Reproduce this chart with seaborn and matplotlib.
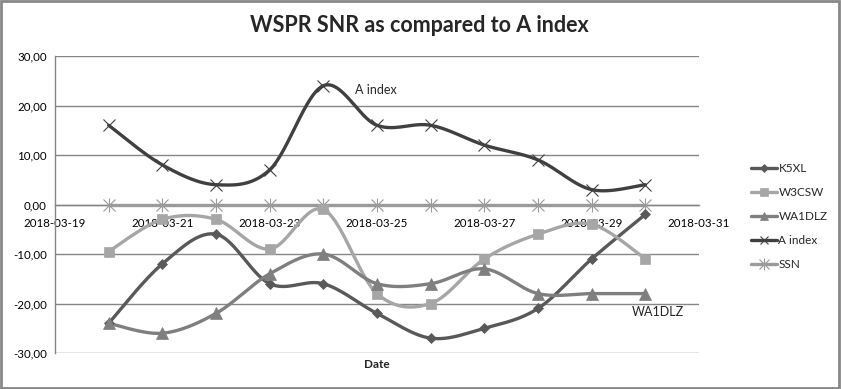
import numpy as np
import pandas as pd
import matplotlib
matplotlib.use("Agg")
import matplotlib.pyplot as plt
import matplotlib.dates as mdates
from matplotlib.lines import Line2D
from matplotlib.legend_handler import HandlerTuple
from matplotlib.ticker import FuncFormatter
import seaborn as sns

# ---- data ----
dates = ["2018-03-20", "2018-03-21", "2018-03-22", "2018-03-23", "2018-03-24",
         "2018-03-25", "2018-03-26", "2018-03-27", "2018-03-28", "2018-03-29",
         "2018-03-30"]
k5xl = [-24, -12, -6, -16, -16, -22, -27, -25, -21, -11, -2]
w3csw = [-9.5, -3, -3, -9, -1, -18, -20, -11, -6, -4, -11]
wa1dlz = [-24, -26, -22, -14, -10, -16, -16, -13, -18, -18, -18]
a_index = [16, 8, 4, 7, 24, 16, 16, 12, 9, 3, 4]
ssn = [0, 0, 0, 0, 0, 0, 0, 0, 0, 0, 0]
tick_dates = ["2018-03-19", "2018-03-21", "2018-03-23", "2018-03-25",
              "2018-03-27", "2018-03-29", "2018-03-31"]
y_ticks = [-30, -20, -10, 0, 10, 20, 30]

series = [
    ("K5XL", k5xl, "#595959", "D", 5.5),
    ("W3CSW", w3csw, "#A6A6A6", "s", 7.5),
    ("WA1DLZ", wa1dlz, "#7F7F7F", "^", 8),
    ("A index", a_index, "#404040", "x", 8),
    ("SSN", ssn, "#9A9A9A", "star", 8),
]

sns.set_theme(style="white")
plt.rcParams["font.family"] = ["Lato", "DejaVu Sans"]


def smooth(x, y, n=30):
    """Catmull-Rom style Bezier smoothing (as used by spreadsheet 'smoothed lines')."""
    x = np.asarray(x, float)
    y = np.asarray(y, float)
    P = np.column_stack([x, y])
    out = []
    m = len(P)
    for i in range(m - 1):
        p0 = P[i - 1] if i > 0 else P[i]
        p1 = P[i]
        p2 = P[i + 1]
        p3 = P[i + 2] if i + 2 < m else P[i + 1]
        c1 = p1 + (p2 - p0) / 6.0
        c2 = p2 - (p3 - p1) / 6.0
        t = np.linspace(0, 1, n, endpoint=(i == m - 2))[:, None]
        b = ((1 - t) ** 3) * p1 + 3 * ((1 - t) ** 2) * t * c1 + 3 * (1 - t) * t ** 2 * c2 + t ** 3 * p2
        out.append(b)
    B = np.vstack(out)
    return B[:, 0], B[:, 1]


xnum = mdates.date2num(pd.to_datetime(dates))
tnum = mdates.date2num(pd.to_datetime(tick_dates))

fig = plt.figure(figsize=(8.41, 3.89), dpi=100)
ax = fig.add_axes([55 / 841, 36 / 389, (699 - 55) / 841, (353 - 56) / 389])

order = [4, 0, 1, 2, 3]
for idx in order:
    name, vals, col, mk, ms = series[idx]
    sx, sy = smooth(xnum, vals)
    sns.lineplot(x=sx, y=sy, color=col, lw=2.4, sort=False, ax=ax, zorder=3)
    if mk == "star":
        ax.plot(xnum, vals, ls="none", marker="x", color=col, markersize=ms,
                markeredgewidth=0.8, zorder=4)
        ax.plot(xnum, vals, ls="none", marker="|", color=col, markersize=ms * 1.25,
                markeredgewidth=0.8, zorder=4)
    else:
        ax.plot(xnum, vals, ls="none", marker=mk, color=col, markersize=ms,
                markeredgewidth=0.8 if mk == "x" else 0.5, zorder=4)

handles = []
for name, vals, col, mk, ms in series:
    if mk == "star":
        h = (Line2D([0], [0], color=col, lw=2.4, marker="x", markersize=ms * 0.85,
                    markeredgewidth=0.8),
             Line2D([0], [0], color=col, lw=0, marker="|", markersize=ms * 1.05,
                    markeredgewidth=0.8))
    else:
        h = Line2D([0], [0], color=col, lw=2.4, marker=mk, markersize=ms * 0.8,
                   markeredgewidth=0.8 if mk == "x" else 0.5)
    handles.append(h)
labels = [s[0] for s in series]

ax.set_xlim(tnum[0], tnum[-1])
ax.set_ylim(-30, 30)
ax.set_yticks(y_ticks)
ax.yaxis.set_major_formatter(FuncFormatter(lambda v, p: f"{v:.2f}".replace(".", ",")))
ax.set_xticks(tnum)
ax.set_xticklabels(tick_dates)
ax.grid(axis="y", color="#868686", lw=1.0)
ax.grid(axis="x", visible=False)
ax.set_axisbelow(True)

for s in ["top", "right"]:
    ax.spines[s].set_visible(False)
ax.spines["left"].set_color("#868686")
ax.spines["left"].set_linewidth(1.0)
ax.spines["bottom"].set_position(("data", 0))
ax.spines["bottom"].set_color("#868686")
ax.spines["bottom"].set_linewidth(1.0)
ax.tick_params(axis="both", length=0, labelsize=8.3, colors="#000000")
ax.tick_params(axis="x", pad=10)
ax.tick_params(axis="y", pad=6)

ax.set_xlabel("Date", fontsize=8.5, fontweight="bold")
ax.xaxis.set_label_coords((377 - 55) / (699 - 55), -0.02)

ax.annotate("A index", (xnum[4], a_index[4]), xytext=(32, -4), textcoords="offset pixels",
            ha="left", va="center", fontsize=9)
ax.annotate("WA1DLZ", (xnum[10], wa1dlz[10]), xytext=(-14, -18), textcoords="offset pixels",
            ha="left", va="center", fontsize=9)

fig.text(419 / 841, 1 - 25 / 389, "WSPR SNR as compared to A index", ha="center", va="center",
         fontsize=15.5, fontweight="bold")

leg = fig.legend(handles=handles, labels=labels, loc="upper left",
                 bbox_to_anchor=(746 / 841, 1 - 158 / 389),
                 frameon=False, fontsize=8.5, handlelength=2.2, handletextpad=0.15,
                 labelspacing=1.1, borderaxespad=0,
                 handler_map={tuple: HandlerTuple(ndivide=1, pad=0)})

fig.patches.append(plt.Rectangle((0.001, 0.002), 0.997, 0.996, transform=fig.transFigure,
                                 fill=False, edgecolor="#888888", lw=2))

fig.savefig("out.png", dpi=100)
